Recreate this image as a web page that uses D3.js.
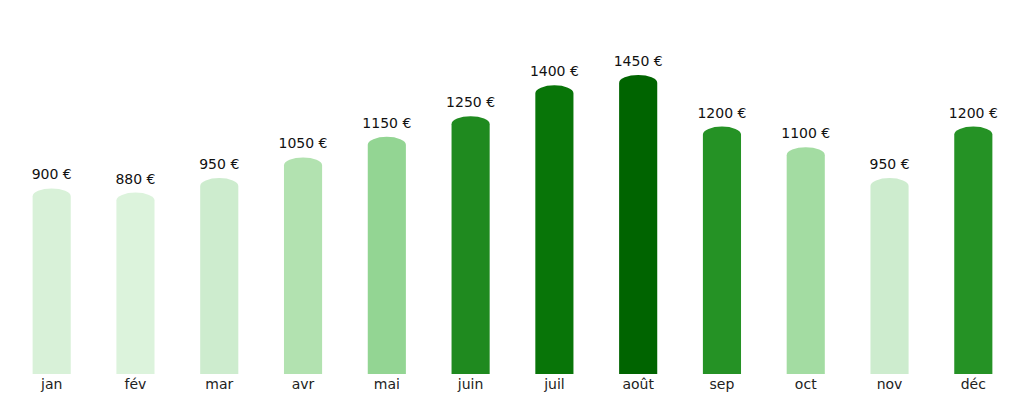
<!DOCTYPE html>
<html><head><meta charset="utf-8">
<script src="https://cdn.jsdelivr.net/npm/d3@7"></script>
<style>body{margin:0;background:#fff}text{font-family:"DejaVu Sans",sans-serif}</style>
</head><body><svg id="c" width="1024" height="404"></svg>
<script>
const months=["jan","fév","mar","avr","mai","juin","juil","août","sep","oct","nov","déc"];
const values=[900,880,950,1050,1150,1250,1400,1450,1200,1100,950,1200];
const colorStops=[880,950,1050,1150,1200,1250,1400,1450];
const colorRange=["#dcf3dc","#cdecce","#b2e2b0","#93d593","#259225","#1f8a1f","#087508","#006400"];
const svg=d3.select("#c");
const x=d3.scaleBand().domain(months).range([10,1015]).paddingInner(0.545).paddingOuter(0.27);
const y=d3.scaleLinear().domain([0,1450]).range([374,75]);
const color=d3.scaleLinear().domain(colorStops).range(colorRange);
const ry=8;
svg.selectAll("path.bar").data(values).join("path").attr("class","bar")
 .attr("fill",(d)=>color(d))
 .attr("d",(d,i)=>{const x0=x(months[i]),w=x.bandwidth(),t=y(d);
   return `M${x0},374V${t+ry}A${w/2},${ry} 0 0 1 ${x0+w},${t+ry}V374Z`;});
svg.selectAll("text.v").data(values).join("text").attr("class","v")
 .attr("x",(d,i)=>x(months[i])+x.bandwidth()/2).attr("y",d=>y(d)-9)
 .attr("text-anchor","middle").attr("font-size",14).attr("fill","#111")
 .text(d=>d+" €");
const ax=svg.append("g").attr("transform","translate(0,374)").call(d3.axisBottom(x).tickSize(0).tickPadding(5));
ax.select(".domain").remove();
ax.selectAll("text").attr("font-size",14).attr("fill","#222").attr("font-family","DejaVu Sans");
</script></body></html>
